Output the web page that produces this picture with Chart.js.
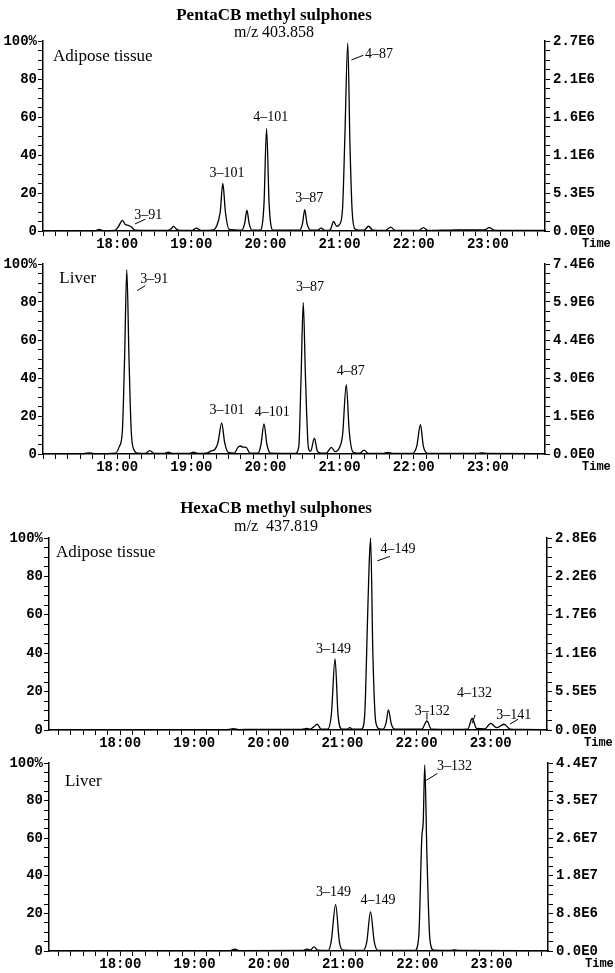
<!DOCTYPE html>
<html>
<head>
<meta charset="utf-8">
<script src="https://cdn.jsdelivr.net/npm/chart.js@4.4.1/dist/chart.umd.min.js"></script>
<style>
  body { margin: 0; background: #fff; }
  #wrap { position: relative; width: 615px; height: 973px; }
  canvas { position: absolute; left: 0; }
</style>
</head>
<body>
<div id="wrap">
  <canvas id="penta-adipose" width="615" height="250" style="top:0px"></canvas>
  <canvas id="penta-liver" width="615" height="225" style="top:250px"></canvas>
  <canvas id="hexa-adipose" width="615" height="275" style="top:475px"></canvas>
  <canvas id="hexa-liver" width="615" height="223" style="top:750px"></canvas>
</div>
<script>
// tick labels
const timeTickMinutes = [18, 19, 20, 21, 22, 23];
const timeTickLabels = ['18:00', '19:00', '20:00', '21:00', '22:00', '23:00'];
const percentLabels = ['0', '20', '40', '60', '80', '100%'];

const pentaAdiposeAbs = ['0.0E0', '5.3E5', '1.1E6', '1.6E6', '2.1E6', '2.7E6'];
const pentaLiverAbs = ['0.0E0', '1.5E6', '3.0E6', '4.4E6', '5.9E6', '7.4E6'];
const hexaAdiposeAbs = ['0.0E0', '5.5E5', '1.1E6', '1.7E6', '2.2E6', '2.8E6'];
const hexaLiverAbs = ['0.0E0', '8.8E6', '1.8E7', '2.6E7', '3.5E7', '4.4E7'];

// traces: retention time (min) and relative intensity (%)
const pentaAdiposeTime = [17.00, 17.70, 17.76, 17.82, 17.97, 18.02, 18.07, 18.11, 18.15, 18.19, 18.24,
  18.68, 18.73, 18.76, 18.80, 18.85, 19.01, 19.07, 19.13,
  19.28, 19.34, 19.39, 19.425, 19.46, 19.51, 19.68, 19.72, 19.75, 19.78, 19.82,
  19.93, 19.98, 20.015, 20.05, 20.10, 20.46, 20.50, 20.53, 20.56, 20.61,
  20.70, 20.75, 20.80, 20.87, 20.92, 20.96, 21.00, 21.04, 21.07, 21.11, 21.14, 21.17, 21.21, 21.26,
  21.33, 21.39, 21.45, 21.62, 21.69, 21.75, 22.07, 22.13, 22.19,
  22.50, 22.70, 22.95, 23.02, 23.08, 23.30, 23.77];
const pentaAdiposePct = [0.2, 0.2, 0.8, 0.2, 0.3, 2.5, 5.6, 3.4, 3.0, 2.2, 0.5,
  0.3, 1.2, 2.4, 1.0, 0.3, 0.3, 1.5, 0.3,
  0.4, 2.5, 10, 25, 10, 0.8, 0.4, 4, 11, 4, 0.4,
  0.4, 14, 54, 14, 0.5, 0.4, 4, 11.3, 4, 0.5,
  0.4, 1.5, 0.3, 0.5, 5, 2.5, 3.5, 12, 48, 99, 45, 10, 1, 0.4,
  0.4, 2.5, 0.4, 0.3, 2, 0.3, 0.3, 1.8, 0.3,
  0.5, 0.6, 0.6, 1.8, 0.5, 0.3, 0.3];

const pentaLiverTime = [17.00, 17.55, 17.62, 17.69, 17.98, 18.03, 18.07, 18.10, 18.13, 18.16, 18.19, 18.23, 18.28,
  18.38, 18.44, 18.50, 18.63, 18.69, 18.75, 18.97, 19.03, 19.09,
  19.20, 19.27, 19.32, 19.36, 19.41, 19.45, 19.50, 19.58, 19.63, 19.66, 19.70, 19.74, 19.79,
  19.90, 19.94, 19.98, 20.02, 20.07, 20.40, 20.45, 20.48, 20.51, 20.54, 20.58, 20.61, 20.66, 20.70, 20.75,
  20.82, 20.89, 20.94, 21.00, 21.04, 21.09, 21.13, 21.18, 21.23, 21.27, 21.33, 21.39,
  21.58, 21.65, 21.72, 21.98, 22.04, 22.09, 22.13, 22.19, 22.85, 22.92, 22.99, 23.77];
const pentaLiverPct = [0.2, 0.2, 0.6, 0.2, 0.5, 4, 12, 50, 97, 50, 12, 2, 0.4,
  0.3, 1.8, 0.3, 0.3, 1.0, 0.3, 0.3, 1.0, 0.3,
  0.4, 1.6, 2.5, 6, 16.4, 6, 0.8, 0.5, 3.5, 4.2, 3.6, 3.5, 0.5,
  0.4, 5, 15.9, 5, 0.4, 0.3, 4, 40, 79.7, 40, 3, 1.5, 8.4, 1.5, 0.5,
  0.5, 3.5, 1.2, 3.5, 10, 36.5, 12, 1, 0.4, 0.4, 2, 0.3,
  0.3, 0.9, 0.3, 0.3, 4, 15.4, 4, 0.3, 0.3, 0.6, 0.3, 0.2];

const hexaAdiposeTime = [17.04, 19.45, 19.53, 19.60, 19.80, 20.45, 20.52, 20.56, 20.61, 20.66, 20.71,
  20.80, 20.85, 20.90, 20.94, 20.99, 21.06, 21.10, 21.14,
  21.26, 21.30, 21.34, 21.36, 21.38, 21.41, 21.45, 21.50,
  21.55, 21.59, 21.62, 21.66, 21.71, 22.07, 22.14, 22.20,
  22.50, 22.69, 22.75, 22.81, 22.92, 23.00, 23.08, 23.18, 23.26, 23.40, 23.76];
const hexaAdiposePct = [0.2, 0.2, 0.7, 0.2, 0.3, 0.3, 0.8, 0.4, 1.5, 3, 0.5,
  0.4, 8, 37, 8, 0.5, 0.4, 1.2, 0.4,
  0.5, 8, 60, 86, 100, 40, 4, 0.6,
  0.5, 4, 10.5, 3, 0.4, 0.4, 4.7, 0.4,
  0.3, 0.4, 6, 0.8, 0.6, 3.5, 1.2, 3, 0.5, 0.3, 0.2];

const hexaLiverTime = [17.04, 19.48, 19.54, 19.60, 20.45, 20.52, 20.56, 20.61, 20.66,
  20.80, 20.84, 20.90, 20.95, 21.00, 21.27, 21.32, 21.37, 21.42, 21.47,
  21.97, 22.02, 22.06, 22.08, 22.10, 22.13, 22.17, 22.22, 22.45, 22.50, 22.56, 23.76];
const hexaLiverPct = [0.2, 0.2, 1.0, 0.2, 0.3, 1.0, 0.5, 2.2, 0.4,
  0.3, 5, 24.7, 5, 0.4, 0.3, 5, 20.8, 5, 0.3,
  0.3, 8, 60, 69, 99, 50, 6, 0.4, 0.3, 0.6, 0.3, 0.2];

Chart.defaults.font.family = '"Liberation Mono", monospace';
Chart.defaults.font.size = 14;
Chart.defaults.font.weight = 'bold';
Chart.defaults.color = '#000';

const panels = [
  {
    id: 'penta-adipose', time: pentaAdiposeTime, pct: pentaAdiposePct, rightLabels: pentaAdiposeAbs,
    xMin: 17.0, xMax: 23.77, padTop: 41, xAxisHeight: 19, leftWidth: 43, rightWidth: 70,
    title: ['PentaCB methyl sulphones', 'm/z 403.858', 274, 16, 33],
    tissue: ['Adipose tissue', 17.135, 91.6],
    peaks: [['3\u201391', 18.42, 8.4], ['3\u2013101', 19.48, 30.5], ['4\u2013101', 20.07, 59.6],
      ['3\u201387', 20.59, 17.1], ['4\u201387', 21.53, 93]],
    leaders: [[18.24, 3.7, 18.38, 6.2], [21.16, 90, 21.32, 92.5]]
  },
  {
    id: 'penta-liver', time: pentaLiverTime, pct: pentaLiverPct, rightLabels: pentaLiverAbs,
    xMin: 17.0, xMax: 23.77, padTop: 14, xAxisHeight: 21, leftWidth: 43, rightWidth: 70,
    title: null,
    tissue: ['Liver', 17.22, 92.6],
    peaks: [['3\u201391', 18.50, 92], ['3\u2013101', 19.48, 23], ['4\u2013101', 20.09, 21.8],
      ['3\u201387', 20.60, 87.8], ['4\u201387', 21.15, 43.5]],
    leaders: [[18.27, 86, 18.38, 88.6]]
  },
  {
    id: 'hexa-adipose', time: hexaAdiposeTime, pct: hexaAdiposePct, rightLabels: hexaAdiposeAbs,
    xMin: 17.04, xMax: 23.76, padTop: 63, xAxisHeight: 20, leftWidth: 49, rightWidth: 68,
    title: ['HexaCB methyl sulphones', 'm/z  437.819', 276, 34, 52],
    tissue: ['Adipose tissue', 17.134, 92.4],
    peaks: [['4\u2013149', 21.75, 94.2], ['3\u2013149', 20.88, 41.9], ['3\u2013132', 22.21, 9.6],
      ['4\u2013132', 22.78, 19.2], ['3\u2013141', 23.31, 7.9]],
    leaders: [[21.47, 88.1, 21.64, 90.4], [22.14, 9.0, 22.14, 5.4], [22.75, 3.5, 22.79, 7.9], [23.26, 3.1, 23.37, 5.6]]
  },
  {
    id: 'hexa-liver', time: hexaLiverTime, pct: hexaLiverPct, rightLabels: hexaLiverAbs,
    xMin: 17.04, xMax: 23.76, padTop: 13, xAxisHeight: 22, leftWidth: 49, rightWidth: 67,
    title: null,
    tissue: ['Liver', 17.255, 90.4],
    peaks: [['3\u2013149', 20.87, 31], ['4\u2013149', 21.47, 26.8], ['3\u2013132', 22.5, 98.2]],
    leaders: [[22.12, 90.8, 22.27, 94.4]]
  }
];

function setTicks(scale, step) {
  const ticks = [];
  const start = Math.ceil(scale.min / step - 1e-6);
  for (let k = start; k * step <= scale.max + 1e-6; k++) ticks.push({value: k * step});
  scale.ticks = ticks;
}

function annotate(p) {
  return {
    id: 'annotate',
    afterDraw(chart) {
      const {ctx, chartArea} = chart;
      const x = chart.scales.x, y = chart.scales.y;
      ctx.save();
      ctx.fillStyle = '#000';
      ctx.strokeStyle = '#000';
      ctx.textBaseline = 'middle';
      if (p.title) {
        ctx.textAlign = 'center';
        ctx.font = 'bold 17px "Liberation Serif"';
        ctx.fillText(p.title[0], p.title[2], p.title[3]);
        ctx.font = '16px "Liberation Serif"';
        ctx.fillText(p.title[1], p.title[2], p.title[4]);
      }
      ctx.textAlign = 'left';
      ctx.font = '17px "Liberation Serif"';
      ctx.fillText(p.tissue[0], x.getPixelForValue(p.tissue[1]), y.getPixelForValue(p.tissue[2]));
      ctx.textAlign = 'center';
      ctx.font = '14px "Liberation Serif"';
      p.peaks.forEach(([txt, t, v]) => ctx.fillText(txt, x.getPixelForValue(t), y.getPixelForValue(v)));
      ctx.lineWidth = 1;
      p.leaders.forEach(([t1, v1, t2, v2]) => {
        ctx.beginPath();
        ctx.moveTo(x.getPixelForValue(t1), y.getPixelForValue(v1));
        ctx.lineTo(x.getPixelForValue(t2), y.getPixelForValue(v2));
        ctx.stroke();
      });
      ctx.textAlign = 'left';
      ctx.font = 'bold 12px "Liberation Mono"';
      ctx.fillText('Time', chartArea.right + 37, chartArea.bottom + 13);
      ctx.restore();
    }
  };
}

function axisStyle() {
  return {
    border: {display: true, color: '#000', width: 1.5},
    grid: {drawOnChartArea: false, drawTicks: true, tickLength: 5, tickColor: '#000', tickWidth: 1}
  };
}

function createPanel(p) {
  const canvas = document.getElementById(p.id);
  return new Chart(canvas, {
    type: 'line',
    data: {
      datasets: [{
        data: p.time.map((t, i) => ({x: t, y: p.pct[i]})),
        borderColor: '#000',
        borderWidth: 1.3,
        pointRadius: 0,
        tension: 0.4,
        cubicInterpolationMode: 'monotone',
        fill: false,
        clip: false
      }]
    },
    options: {
      responsive: false,
      animation: false,
      events: [],
      layout: {padding: {top: p.padTop, left: 0, right: 0, bottom: 0}},
      plugins: {legend: {display: false}, tooltip: {enabled: false}},
      scales: {
        x: {
          type: 'linear', min: p.xMin, max: p.xMax,
          ...axisStyle(),
          afterFit: s => { s.height = p.xAxisHeight; },
          afterBuildTicks: s => setTicks(s, 1 / 6),
          ticks: {
            autoSkip: false, maxRotation: 0, padding: 0,
            callback: v => {
              const m = Math.round(v);
              const i = timeTickMinutes.indexOf(m);
              return (Math.abs(v - m) < 1e-3 && i >= 0) ? timeTickLabels[i] : '';
            }
          }
        },
        y: {
          position: 'left', min: 0, max: 100,
          ...axisStyle(),
          afterFit: s => { s.width = p.leftWidth; },
          afterBuildTicks: s => setTicks(s, 5),
          ticks: {autoSkip: false, padding: 1, callback: v => v % 20 === 0 ? percentLabels[v / 20] : ''}
        },
        y2: {
          position: 'right', min: 0, max: 100,
          ...axisStyle(),
          afterFit: s => { s.width = p.rightWidth; },
          afterBuildTicks: s => setTicks(s, 5),
          ticks: {autoSkip: false, padding: 3, callback: v => v % 20 === 0 ? p.rightLabels[v / 20] : ''}
        }
      }
    },
    plugins: [annotate(p)]
  });
}

panels.forEach(createPanel);
</script>
</body>
</html>
